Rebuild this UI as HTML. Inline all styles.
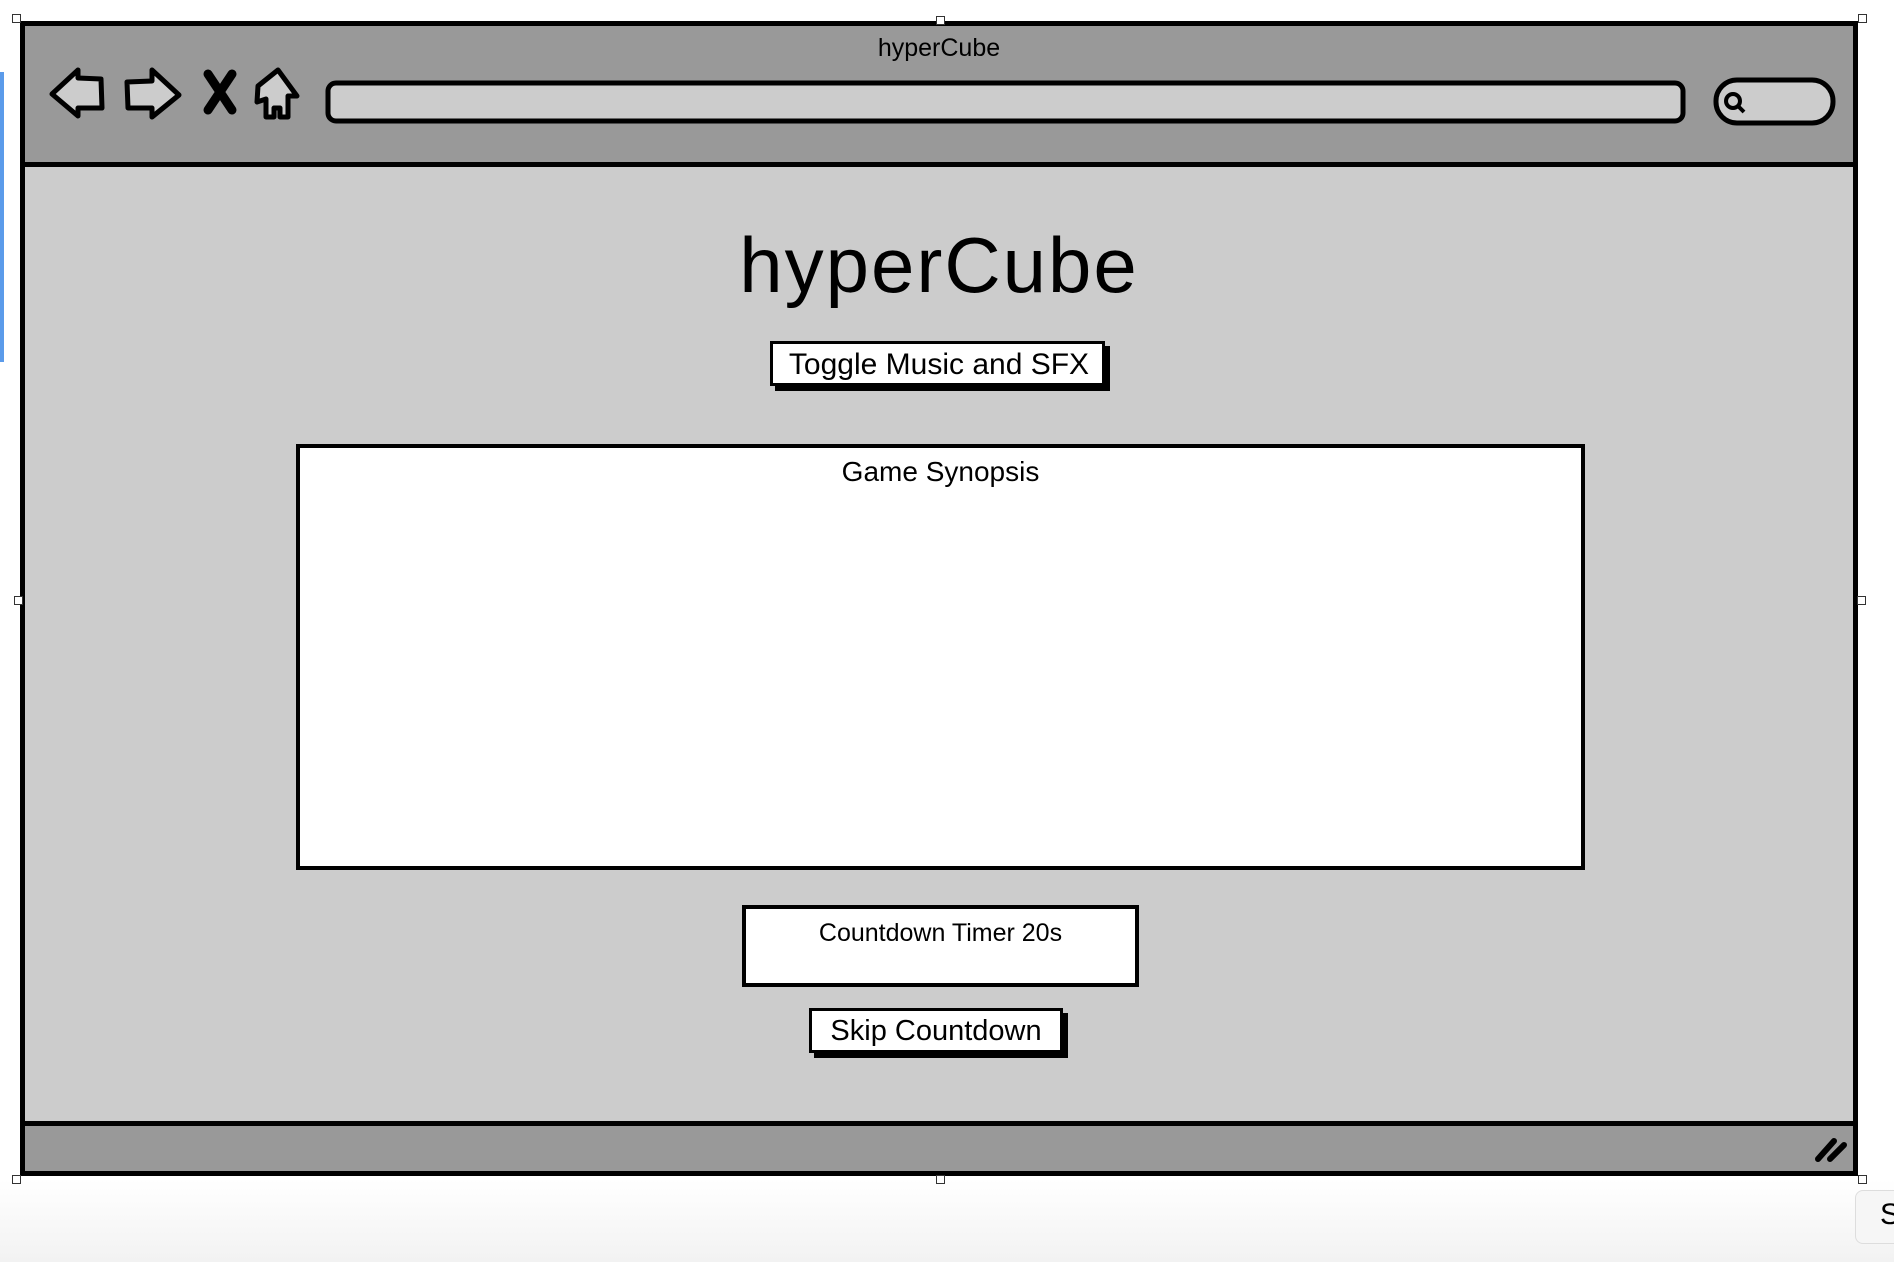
<!DOCTYPE html>
<html><head><style>
body{margin:0;width:1894px;height:1262px;background:#fff;position:relative;overflow:hidden;font-family:"Liberation Sans",sans-serif;}
div{position:absolute;box-sizing:border-box;}
.t{text-align:center;color:#000;white-space:nowrap;}
.btn{background:#fff;border:3px solid #000;box-shadow:5px 5px 0 #000;}
.h{width:9px;height:9px;border:1px solid #333;background:#fff;}
</style></head><body>
<div style="left:0;top:1180px;width:1894px;height:82px;background:linear-gradient(#fff,#f2f2f2)"></div>
<div style="left:0;top:72px;width:4px;height:290px;background:#5b9bea"></div>
<div style="left:20px;top:21px;width:1838px;height:1155px;background:#ccc;border:5px solid #000"></div>
<div style="left:20px;top:21px;width:1838px;height:146px;background:#999;border:5px solid #000"></div>
<div style="left:20px;top:1121px;width:1838px;height:55px;background:#999;border:5px solid #000"></div>
<div class="h" style="left:12px;top:14px"></div><div class="h" style="left:936px;top:16px"></div><div class="h" style="left:1858px;top:14px"></div>
<div class="h" style="left:14px;top:596px"></div><div class="h" style="left:1857px;top:596px"></div>
<div class="h" style="left:12px;top:1175px"></div><div class="h" style="left:936px;top:1175px"></div><div class="h" style="left:1858px;top:1175px"></div>
<div class="t" style="left:0;width:1878px;top:34px;font-size:25px">hyperCube</div>
<svg style="position:absolute;left:0;top:0" width="1894" height="200">
<g stroke="#000" stroke-width="5" fill="#ccc" stroke-linejoin="round">
<path d="M52 94 L78 70 L78 78 L101 79 L102 108 L78 108 L78 116 Z"/>
<path d="M127 82 L152 81 L152 70 L179 95 L152 117 L152 108 L128 108 Z"/>
<path d="M257 102 L258 86 L278 70 L297 96 L288 96 L288 117 L280 117 L280 108 L274 108 L274 117 L266 117 L266 99 Z"/>
<rect x="328" y="83" width="1355" height="38" rx="8"/>
<rect x="1716" y="80" width="117" height="43" rx="21"/>
</g>
<path d="M208 74 L232 110 M232 74 L208 110" stroke="#000" stroke-width="9" stroke-linecap="round"/>
<circle cx="1733" cy="101" r="7" fill="none" stroke="#000" stroke-width="4"/>
<path d="M1738 106 L1744 112" stroke="#000" stroke-width="4"/>
</svg>
<svg style="position:absolute;left:1810px;top:1135px" width="40" height="30"><path d="M8 24 L24 6 M20 24 L34 10" stroke="#000" stroke-width="6" stroke-linecap="round"/></svg>
<div class="t" style="left:0;width:1878px;top:220px;font-size:78px;line-height:90px;letter-spacing:2px">hyperCube</div>
<div class="btn" style="left:770px;top:341px;width:335px;height:45px"></div>
<div class="t" style="left:770px;width:338px;top:348px;font-size:30px">Toggle Music and SFX</div>
<div style="left:296px;top:444px;width:1289px;height:426px;background:#fff;border:4px solid #000"></div>
<div class="t" style="left:296px;width:1289px;top:456px;font-size:28px">Game Synopsis</div>
<div style="left:742px;top:905px;width:397px;height:82px;background:#fff;border:4px solid #000"></div>
<div class="t" style="left:742px;width:397px;top:919px;font-size:25px">Countdown Timer 20s</div>
<div class="btn" style="left:809px;top:1008px;width:254px;height:45px"></div>
<div class="t" style="left:809px;width:254px;top:1015px;font-size:29px">Skip Countdown</div>
<div style="left:1855px;top:1190px;width:60px;height:54px;border:1px solid #ddd;border-radius:8px;background:#f6f6f6"></div>
<div style="left:1880px;top:1198px;font-size:30px">S</div>
</body></html>
